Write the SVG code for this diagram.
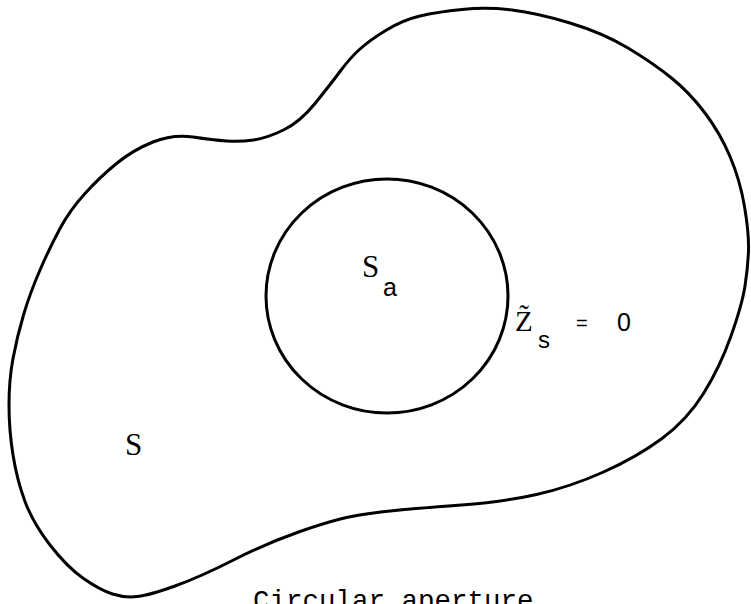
<svg xmlns="http://www.w3.org/2000/svg" width="751" height="604" viewBox="0 0 751 604">
<style>
.ln{fill:none;stroke:#000;stroke-width:3;stroke-linejoin:round}
.serif{font-family:"Liberation Serif","Times New Roman",serif;fill:#000}
.sans{font-family:"Liberation Sans",Arial,sans-serif;fill:#000}
.mono{font-family:"Liberation Mono","Courier New",monospace;fill:#000}
</style>
<rect width="751" height="604" fill="#fff"/>
<g id="surface-S">
<path class="ln" d="M462,9.5 Q487,7 512,10 Q537,13 570,23 Q603,33 628,48 Q653,63 671.5,78 Q690,93 705,113 Q720,133 730,156.5 Q740,180 744.5,206.5 Q749,233 748.5,250 Q748,267 745,286 Q742,305 731,336 Q720,367 703.5,393.5 Q687,420 662,438.5 Q637,457 603.5,472 Q570,487 536.5,494.5 Q503,502 461.5,505 Q420,508 395,510.5 Q370,513 351.5,516.5 Q333,520 300,531.5 Q267,543 233.5,560 Q200,577 175,586 Q150,595 137.5,596.5 Q125,598 112.5,594 Q100,590 83.5,578.5 Q67,567 50,545 Q33,523 25,501.5 Q17,480 13,455 Q9,430 9,405 Q9,380 13,358.5 Q17,337 23.5,315 Q30,293 40,270 Q50,247 60,228.5 Q70,210 85,193.5 Q100,177 116.5,163.5 Q133,150 153,142 Q173,134 193,137 Q213,140 226.5,141 Q240,142 253.5,140 Q267,138 283.5,130 Q300,122 315,103.5 Q330,85 340,71.5 Q350,58 360,49 Q370,40 386.5,30 Q403,20 420,16 Q437,12 462,9.5 Z"/>
<text class="serif" x="125" y="455" font-size="31">S</text>
</g>
<g id="aperture">
<ellipse class="ln" cx="387" cy="296" rx="121" ry="117"/>
<text class="serif" x="362" y="277" font-size="31">S</text>
<text class="sans" x="383" y="296" font-size="25">a</text>
</g>
<g id="impedance-label">
<text class="serif" x="515" y="331" font-size="29">Z&#771;</text>
<text class="sans" x="538" y="348" font-size="24">s</text>
<text class="sans" x="576" y="330" font-size="20">=</text>
<text class="sans" x="617" y="331" font-size="25">0</text>
</g>
<g id="caption">
<text class="mono" x="253" y="609" font-size="27.5">Circular aperture</text>
</g>
</svg>
